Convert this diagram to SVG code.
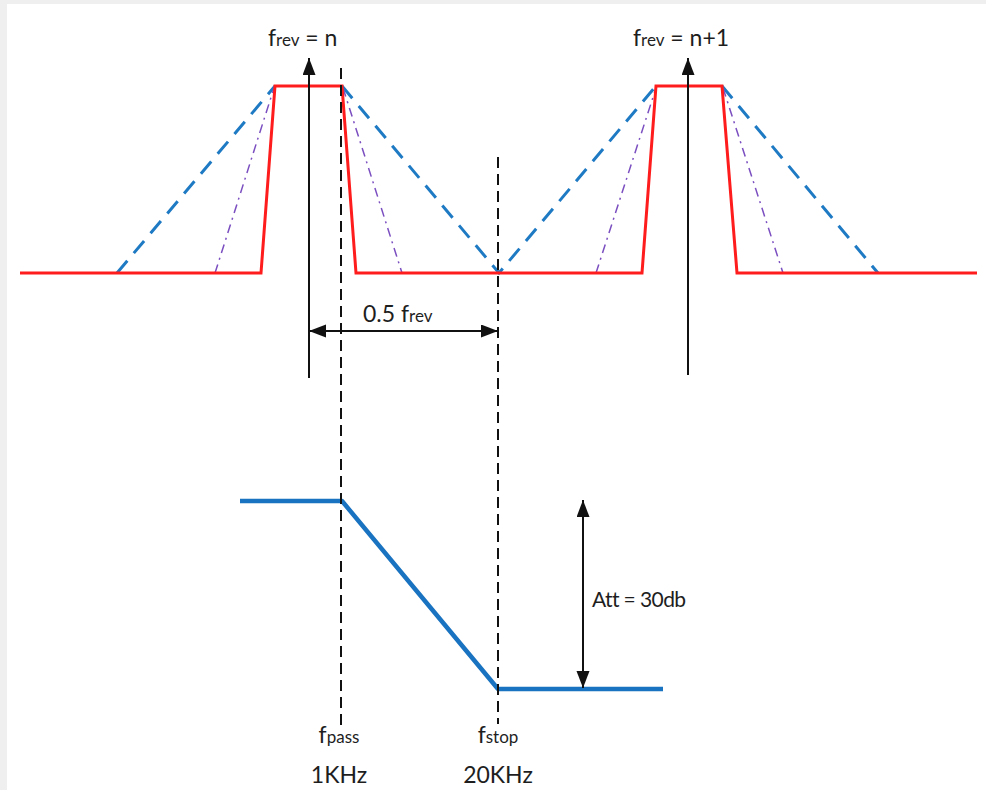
<svg xmlns="http://www.w3.org/2000/svg" width="986" height="790" viewBox="0 0 986 790">
<style>
  text { font-family: Lato, "Open Sans", "Liberation Sans", sans-serif; fill: #1e1e1e; }
  .big { font-size: 23px; }
  .sub { font-size: 17px; }
  .red { fill: none; stroke: #ff1c1c; stroke-width: 3; stroke-linejoin: miter; }
  .bluedash { fill: none; stroke: #1f7ac4; stroke-width: 3; stroke-dasharray: 16 10; }
  .purple { fill: none; stroke: #7b4fc0; stroke-width: 1.5; stroke-dasharray: 9 5 2 5; }
  .guide { fill: none; stroke: #111; stroke-width: 2; stroke-dasharray: 11 6; }
  .arrow { fill: none; stroke: #111; stroke-width: 2; }
  .resp { fill: none; stroke: #1a73c0; stroke-width: 4.5; stroke-linejoin: round; }
</style>
<defs>
  <marker id="ah" markerUnits="userSpaceOnUse" markerWidth="18" markerHeight="14" refX="17" refY="6.5" orient="auto-start-reverse">
    <path d="M0,0 L17,6.5 L0,13 z" fill="#111"/>
  </marker>
</defs>

<rect x="0" y="0" width="986" height="790" fill="#efefef"/>
<rect x="7" y="4" width="979" height="786" fill="#ffffff"/>

<g id="spectrum">
  <path class="bluedash" d="M117,273 L275,86"/>
  <path class="bluedash" d="M342,86 L499,273 L656,86"/>
  <path class="bluedash" d="M722,86 L878,273"/>
  <path class="purple" d="M215,273 L274,88"/>
  <path class="purple" d="M343,88 L402,273"/>
  <path class="purple" d="M596,273 L656,88"/>
  <path class="purple" d="M723,88 L783,273"/>
  <path class="red" d="M20,273 L261,273 L275,86 L342,86 L356,273 L642,273 L656,86 L722,86 L737,273 L977,273"/>
</g>

<g id="response">
  <path class="resp" d="M240,501 L342,501 L498,689 L663,689"/>
</g>

<g id="connectors">
  <line class="guide" x1="341" y1="68" x2="341" y2="728"/>
  <line class="guide" x1="498" y1="157" x2="498" y2="724"/>
  <line class="arrow" x1="309" y1="378" x2="309" y2="58" marker-end="url(#ah)"/>
  <line class="arrow" x1="688" y1="375" x2="688" y2="58" marker-end="url(#ah)"/>
  <line class="arrow" x1="309" y1="331" x2="498" y2="331" marker-start="url(#ah)" marker-end="url(#ah)"/>
  <line class="arrow" x1="583" y1="500" x2="583" y2="688" stroke="#3a3a3a" marker-start="url(#ah)" marker-end="url(#ah)"/>
</g>

<g id="label-frev-n">
  <text class="big" x="268" y="46">f<tspan class="sub">rev</tspan> = n</text>
</g>
<g id="label-frev-n1">
  <text class="big" x="633" y="46">f<tspan class="sub">rev</tspan> = n+1</text>
</g>
<g id="label-half">
  <text class="big" x="363" y="322">0.5 f<tspan class="sub">rev</tspan></text>
</g>
<g id="label-att">
  <text x="592" y="607" font-size="21" letter-spacing="-0.6">Att = 30db</text>
</g>
<g id="label-fpass">
  <text class="big" x="339" y="743" text-anchor="middle">f<tspan class="sub">pass</tspan></text>
  <text class="big" x="339" y="783" text-anchor="middle">1KHz</text>
</g>
<g id="label-fstop">
  <text class="big" x="498" y="743" text-anchor="middle">f<tspan class="sub">stop</tspan></text>
  <text class="big" x="498" y="783" text-anchor="middle">20KHz</text>
</g>
</svg>
